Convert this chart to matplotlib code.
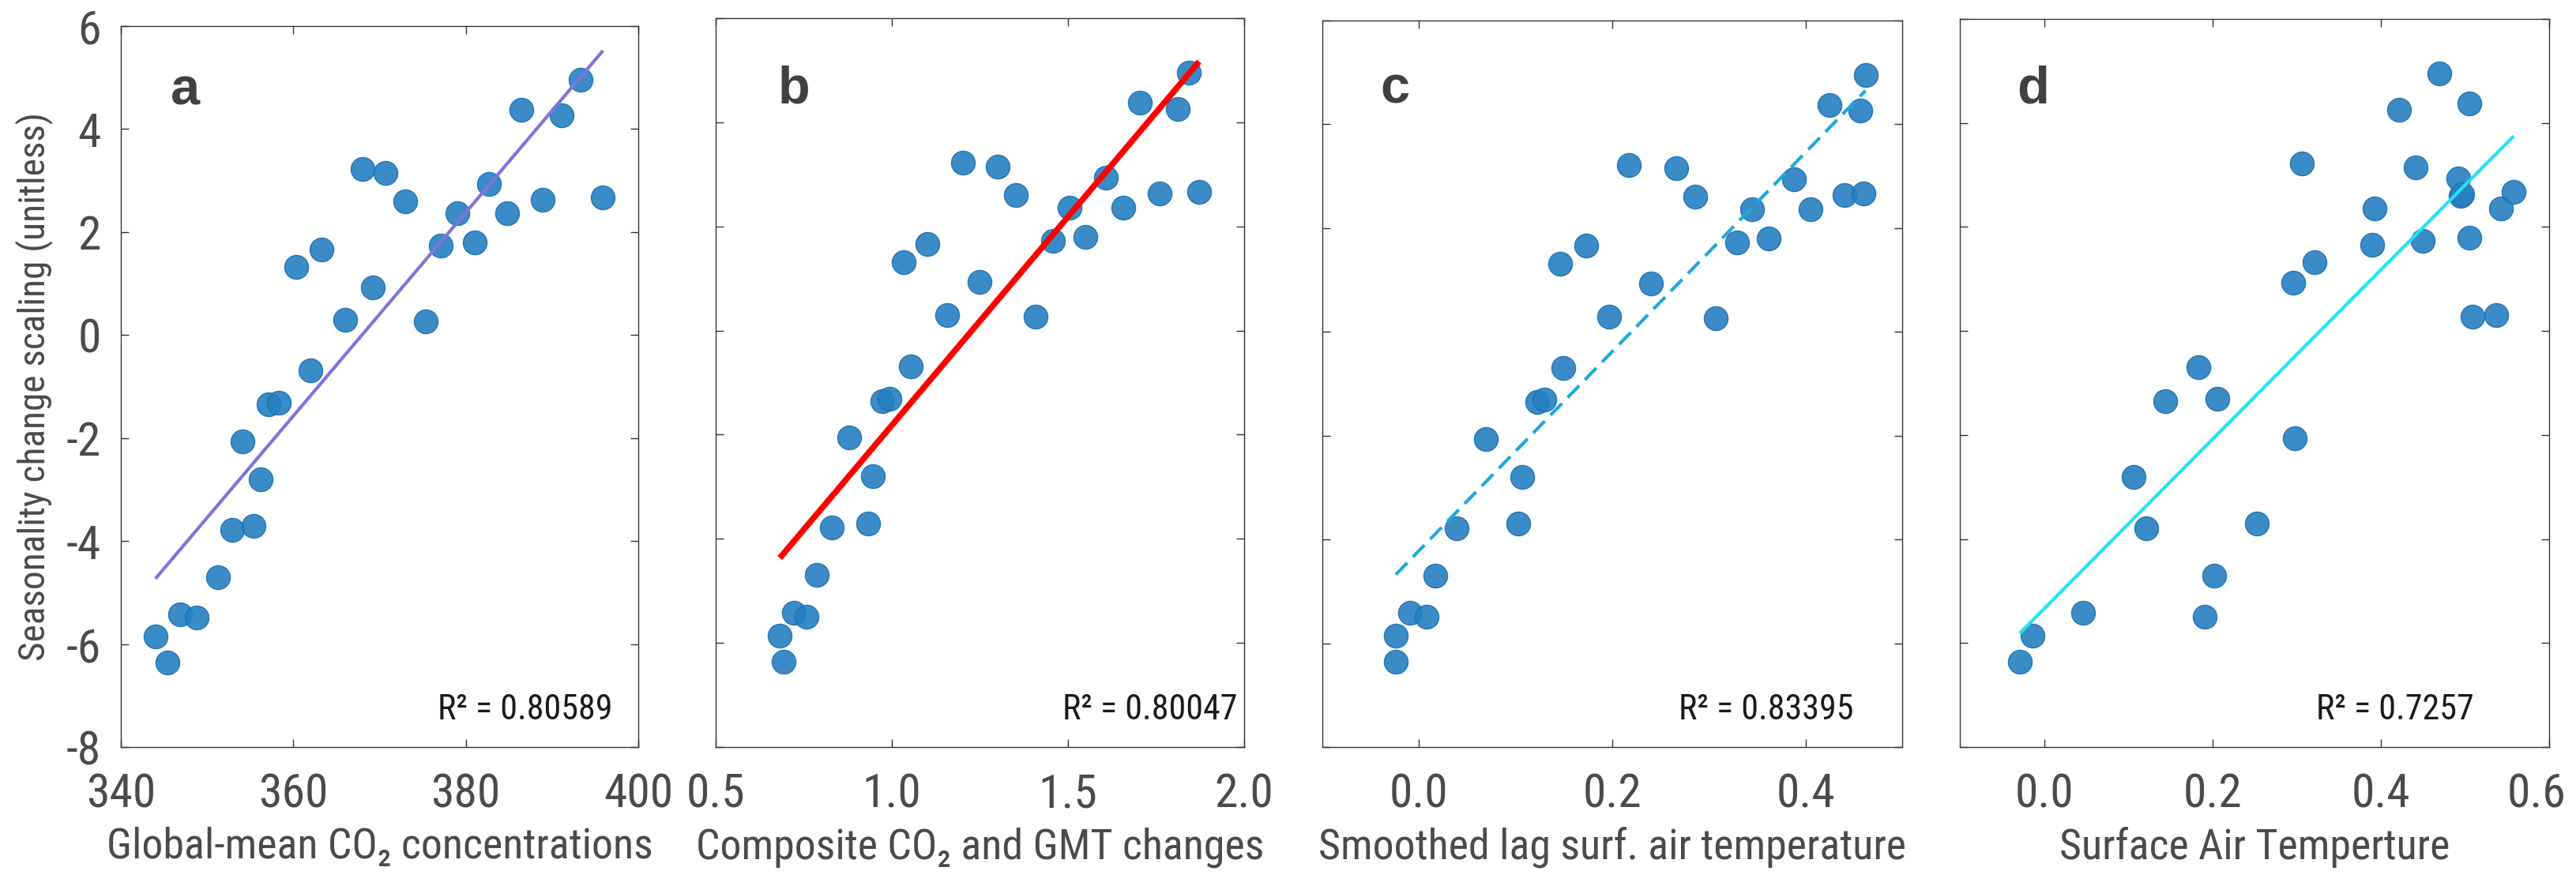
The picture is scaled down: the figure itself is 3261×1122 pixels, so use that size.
import numpy as np
import matplotlib
matplotlib.use('Agg')
from matplotlib import pyplot as plt, font_manager
from matplotlib.font_manager import FontProperties
from matplotlib.textpath import TextPath
from matplotlib.transforms import ScaledTranslation

# seasonality change scaling, one value per year (shared by all four panels)
seasonality = [-5.86, -6.36, -5.42, -5.49, -4.70, -3.79, -3.70, -2.80, -2.06, -1.35,
               -1.31, -0.69, 1.32, 1.66, 0.30, 0.93, 3.22, 3.15, 2.60, 0.27,
               1.73, 2.36, 1.80, 2.94, 2.36, 4.37, 2.63, 4.26, 4.95, 2.67]

# predictors, same year order as above
co2 = [344.0, 345.4, 346.9, 348.8, 351.3, 352.9, 355.4, 356.2, 354.1, 357.1,
       358.3, 362.0, 360.3, 363.3, 366.0, 369.2, 368.0, 370.7, 373.0, 375.4,
       377.1, 379.0, 381.0, 382.7, 384.8, 386.4, 388.9, 391.1, 393.3, 395.9]
composite = [0.682, 0.692, 0.721, 0.758, 0.788, 0.829, 0.932, 0.947, 0.880, 0.973,
             0.994, 1.054, 1.034, 1.101, 1.156, 1.249, 1.202, 1.300, 1.351, 1.407,
             1.458, 1.504, 1.549, 1.607, 1.658, 1.705, 1.761, 1.811, 1.842, 1.872]
lag_sat = [-0.024, -0.024, -0.009, 0.008, 0.017, 0.039, 0.103, 0.107, 0.069, 0.122,
           0.130, 0.149, 0.146, 0.173, 0.197, 0.240, 0.217, 0.266, 0.286, 0.307,
           0.329, 0.345, 0.362, 0.388, 0.405, 0.425, 0.440, 0.457, 0.462, 0.460]
sat = [-0.014, -0.029, 0.046, 0.191, 0.202, 0.121, 0.253, 0.106, 0.298, 0.144,
       0.206, 0.183, 0.321, 0.390, 0.537, 0.296, 0.306, 0.441, 0.495, 0.509,
       0.450, 0.393, 0.505, 0.492, 0.543, 0.505, 0.497, 0.422, 0.470, 0.558]

panel_letters = ['a', 'b', 'c', 'd']
r2_labels = ['0.80589', '0.80047', '0.83395', '0.7257']
x_labels = ['Global-mean CO\u2082 concentrations', 'Composite CO\u2082 and GMT changes',
            'Smoothed lag surf. air temperature', 'Surface Air Temperture']
x_limits = [(340, 400), (0.5, 2.0), (-0.1, 0.5), (-0.1, 0.6)]
x_ticks = [[340, 360, 380, 400], [0.5, 1.0, 1.5, 2.0], [0.0, 0.2, 0.4], [0.0, 0.2, 0.4, 0.6]]
y_ticks = [-8, -6, -4, -2, 0, 2, 4, 6]


# look for a narrow / condensed regular face, else plain Liberation Sans
def find_font():
    faces = font_manager.fontManager.ttflist
    wanted = [
        lambda f: f.name == 'Liberation Sans Narrow',
        lambda f: f.name == 'Roboto Condensed',
        lambda f: f.name == 'DejaVu Sans' and f.stretch == 'condensed',
        lambda f: f.name == 'Noto Sans' and f.stretch in ('condensed', 'semi-condensed'),
        lambda f: f.name == 'Open Sans' and f.stretch in ('condensed', 'semi-condensed'),
    ]
    for test in wanted:
        for f in faces:
            if '[' in f.fname:
                continue
            if test(f) and f.style == 'normal' and f.weight in (400, 'normal', 'regular'):
                return f.fname
    return font_manager.findfont('Liberation Sans')


font_file = find_font()
DPI = 100


# font size (pt) that makes a string a given width in pixels
def size_for(text, width_px, cap):
    w = TextPath((0, 0), text, size=100, prop=FontProperties(fname=font_file)).get_extents().width
    return min(cap, width_px * 72 / DPI / (w / 100))


lab_size = size_for('Smoothed lag surf. air temperature', 740, 46)
tick_size = size_for('340', 82, 46)
ylab_size = size_for('Seasonality change scaling (unitless)', 690, 38)
r2_size = size_for('R\u00b2 = 0.80589', 215, 36)

plt.rcParams['axes.unicode_minus'] = False

W, H = 3262, 1122
fig = plt.figure(figsize=(W / DPI, H / DPI), dpi=DPI)

# axes boxes in pixels: left, right, top, bottom
boxes = [(153, 808, 33, 946), (906, 1575, 23, 946), (1674, 2408, 26, 946), (2481, 3227, 24, 946)]
fit_styles = [dict(color='#7F74DA', lw=3, ls='-'),
              dict(color='#FF0000', lw=5.5, ls='-'),
              dict(color='#1EA8DC', lw=3, ls=(0, (5, 2.5))),
              dict(color='#22E3F2', lw=3, ls='-')]
xdata = [co2, composite, lag_sat, sat]
letter_pos = [(0.096, 0.891), (0.118, 0.883), (0.100, 0.886), (0.097, 0.884)]
r2_pos = [0.612, 0.656, 0.614, 0.605]

text_grey = '#4a4a4a'
y = np.array(seasonality)

for i in range(4):
    l, r, t, b = boxes[i]
    ax = fig.add_axes([l / W, 1 - b / H, (r - l) / W, (b - t) / H])
    x = np.array(xdata[i])

    ax.scatter(x, y, s=470, color='#2580C0', alpha=0.9, edgecolors='#1A6FB5',
               linewidths=1.0, zorder=2)

    # least squares fit across the data range
    p = np.polyfit(x, y, 1)
    xx = np.array([x.min(), x.max()])
    ax.plot(xx, np.polyval(p, xx), zorder=3, solid_capstyle='butt', **fit_styles[i])

    ax.set_xlim(*x_limits[i])
    ax.set_ylim(-8, 6)
    ax.set_xticks(x_ticks[i])
    if i == 0:
        ax.set_xticklabels([str(v) for v in x_ticks[i]])
    else:
        ax.set_xticklabels(['%.1f' % v for v in x_ticks[i]])
    ax.set_yticks(y_ticks)
    if i == 0:
        ax.set_yticklabels([str(v) for v in y_ticks])
        ax.set_ylabel('Seasonality change scaling (unitless)', color=text_grey, labelpad=12,
                      fontproperties=FontProperties(fname=font_file, size=ylab_size))
    else:
        ax.set_yticklabels([])

    ax.tick_params(direction='in', length=7, width=1, top=True, right=True,
                   color='#333333', labelcolor=text_grey, pad=23)
    ax.tick_params(axis='y', pad=18)
    for lbl in ax.get_xticklabels() + ax.get_yticklabels():
        lbl.set_fontproperties(FontProperties(fname=font_file, size=tick_size))
    for sp in ax.spines.values():
        sp.set_color('#333333')
        sp.set_linewidth(1.0)

    # last label of panel d sits at the figure edge, nudge it inwards
    if i == 3:
        last = ax.get_xticklabels()[-1]
        last.set_transform(last.get_transform() + ScaledTranslation(-16 / DPI, 0, fig.dpi_scale_trans))

    ax.set_xlabel(x_labels[i], color=text_grey, labelpad=9,
                  fontproperties=FontProperties(fname=font_file, size=lab_size))

    ax.text(letter_pos[i][0], letter_pos[i][1], panel_letters[i], transform=ax.transAxes,
            fontsize=48, fontweight='bold', color='#404040', family='Liberation Sans')
    ax.text(r2_pos[i], 0.038, 'R\u00b2 = ' + r2_labels[i], transform=ax.transAxes,
            color='#1a1a1a', fontproperties=FontProperties(fname=font_file, size=r2_size))

fig.savefig('out.png', dpi=DPI)
